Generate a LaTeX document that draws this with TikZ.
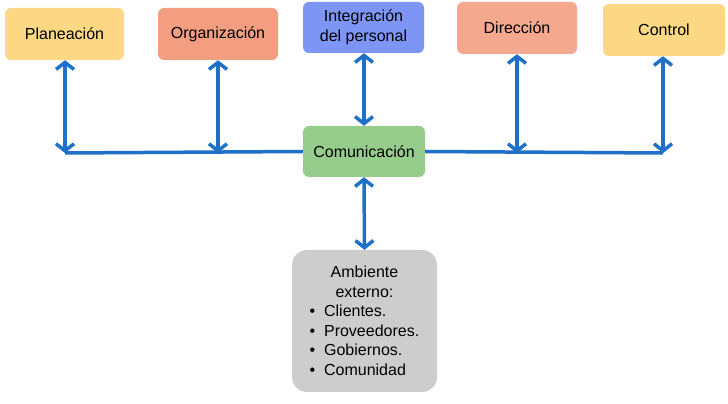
\documentclass[tikz,border=0pt]{standalone}
\usepackage{fontspec}
\setmainfont{Liberation Sans}
\usepackage{tikz}
\usetikzlibrary{arrows.meta}
\definecolor{amarillo}{RGB}{252,215,132}
\definecolor{salmon}{RGB}{243,158,128}
\definecolor{azulcaja}{RGB}{125,150,245}
\definecolor{verde}{RGB}{150,205,140}
\definecolor{gris}{RGB}{205,205,205}
\definecolor{azul}{RGB}{30,112,200}
\newcommand{\punto}[1]{\makebox[110pt][l]{\textbullet\hspace{9pt}#1}}
\tikzset{
  caja/.style={rounded corners=6pt, align=center, inner sep=2pt,
    font=\fontsize{16}{20}\selectfont},
  flecha/.style={azul, line width=3.5pt,
    {Straight Barb[length=7pt,width=18pt]}-{Straight Barb[length=7pt,width=18pt]}},
  linea/.style={azul, line width=3.5pt}
}
\begin{document}
\begin{tikzpicture}[x=1pt,y=1pt]
\useasboundingbox (0,0) rectangle (728,404);
\node[caja, fill=amarillo, minimum width=119pt, minimum height=52pt] (plan) at (64.5,370) {Planeación};
\node[caja, fill=salmon, minimum width=120pt, minimum height=52pt] (org) at (218,370) {Organización};
\node[caja, fill=azulcaja, minimum width=121pt, minimum height=51pt] (integ) at (363.5,376.5) {Integración\\del personal};
\node[caja, fill=salmon!90!white, minimum width=120pt, minimum height=52pt] (dir) at (517,376) {Dirección};
\node[caja, fill=amarillo, minimum width=122pt, minimum height=52pt] (ctrl) at (664,374) {Control};
\node[caja, fill=verde, minimum width=122pt, minimum height=51pt] (com) at (364,252.5) {Comunicación};
\node[caja, fill=gris, rounded corners=15pt, minimum width=145pt, minimum height=142pt,
  font=\fontsize{16}{19.5}\selectfont] (amb) at (364.5,83)
  {Ambiente\\externo:\\\punto{Clientes.}\\\punto{Proveedores.}\\\punto{Gobiernos.}\\\punto{Comunidad}};
\coordinate (j1) at (65,251);
\coordinate (j2) at (218,251);
\coordinate (j4) at (517,251);
\coordinate (j5) at (663,251);
\draw[linea] (com.west) -- (j1);
\draw[linea] (com.east) -- (j5);
\draw[flecha] (plan.south -| j1) -- (j1);
\draw[flecha] (org.south -| j2) -- (j2);
\draw[flecha] (integ.south -| com.north) -- (com.north);
\draw[flecha] (dir.south -| j4) -- (j4);
\draw[flecha] (ctrl.south -| j5) -- (j5);
\draw[flecha] (com.south) -- (amb.north);
\end{tikzpicture}
\end{document}
